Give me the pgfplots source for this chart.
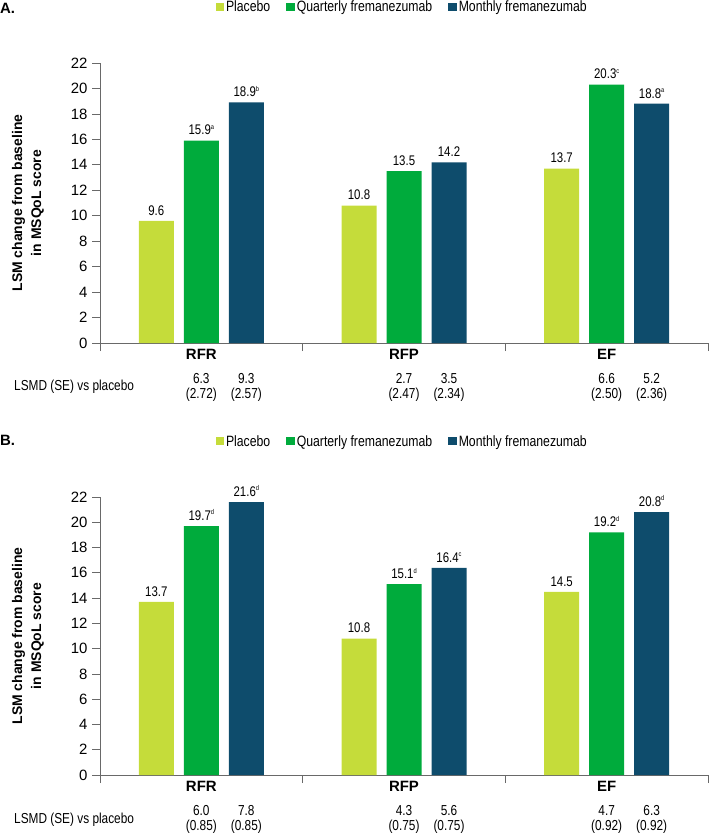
\documentclass[border=0pt]{standalone}
\usepackage{fontspec}
\setmainfont{Liberation Sans}
\newfontfamily\narrow[FakeStretch=0.82]{Liberation Sans}
\usepackage{pgfplots}
\pgfplotsset{compat=1.18}
\definecolor{cPla}{RGB}{197,220,58}
\definecolor{cQua}{RGB}{0,171,60}
\definecolor{cMon}{RGB}{14,76,108}
\definecolor{axgray}{RGB}{105,105,105}
\newcommand\supr[1]{\raisebox{0.75ex}{\fontsize{7}{8}\selectfont #1}}
\pgfplotsset{
  mybars/.style={
    scale only axis, width=608bp,
    xmin=0, xmax=3, ymin=0, ymax=22,
    ytick={0,2,...,22},
    axis x line=bottom, axis y line=left,
    axis line style={draw=axgray, line width=0.8bp, -},
    tick style={draw=axgray, line width=0.8bp},
    tick align=outside, major tick length=8bp,
    xtick={0,1,2,3}, xticklabels={},
    extra x ticks={0.5,1.5,2.5}, extra x tick labels={RFR,RFP,EF},
    extra x tick style={major tick length=0pt,
      xticklabel style={font=\fontsize{15}{17}\selectfont\bfseries, yshift=-3bp}},
    yticklabel style={font=\fontsize{15}{17}\selectfont, xshift=-1bp},
    /pgf/number format/assume math mode=true,
    ybar, bar width=35bp,
    clip=false,
    nodes near coords, point meta=explicit symbolic,
    every node near coord/.append style={font=\narrow\fontsize{14}{16}\selectfont, text=black, anchor=south, yshift=2bp},
    legend image code/.code={\fill[##1] (0bp,-4bp) rectangle (8.5bp,4.5bp);},
    legend columns=3,
    legend style={draw=none, fill=none, font=\narrow\fontsize{15}{17}\selectfont,
      anchor=center, inner sep=0pt,
      /tikz/every even column/.append style={column sep=14bp}},
  },
}
\tikzset{lsmd/.style={font=\narrow\fontsize{14.5}{15.5}\selectfont, align=center, anchor=north, inner sep=0pt, yshift=-30bp}}
\begin{document}
\begin{tikzpicture}
\useasboundingbox (0bp,0bp) rectangle (709bp,-834bp);
% ---------------- Panel A ----------------
\node[anchor=west, font=\fontsize{15}{17}\selectfont\bfseries, inner sep=0pt] at (0bp,-8bp) {A.};
\node[rotate=90, align=center, font=\fontsize{14}{19}\selectfont\bfseries] at (28bp,-203bp) {LSM change from baseline\\in MSQoL score};
\node[anchor=west, font=\narrow\fontsize{14.5}{16}\selectfont, inner sep=0pt] at (14bp,-387bp) {LSMD (SE) vs placebo};
\begin{axis}[mybars, height=280bp, at={(100bp,-343bp)}, anchor=origin,
  legend style={at={(0.497,1.2)}}]
\addplot[fill=cPla, draw=none, bar shift=-45bp] coordinates {(0.5,9.6) [9.6] (1.5,10.8) [10.8] (2.5,13.7) [13.7]};
\addplot[fill=cQua, draw=none, bar shift=0bp] coordinates {(0.5,15.9) [15.9\supr{a}] (1.5,13.5) [13.5] (2.5,20.3) [20.3\supr{c}]};
\addplot[fill=cMon, draw=none, bar shift=45bp] coordinates {(0.5,18.9) [18.9\supr{b}] (1.5,14.2) [14.2] (2.5,18.8) [18.8\supr{a}]};
\legend{Placebo, Quarterly fremanezumab, Monthly fremanezumab}
\node[lsmd] at (axis cs:0.5,0) {6.3\\(2.72)};
\node[lsmd, xshift=45bp] at (axis cs:0.5,0) {9.3\\(2.57)};
\node[lsmd] at (axis cs:1.5,0) {2.7\\(2.47)};
\node[lsmd, xshift=45bp] at (axis cs:1.5,0) {3.5\\(2.34)};
\node[lsmd] at (axis cs:2.5,0) {6.6\\(2.50)};
\node[lsmd, xshift=45bp] at (axis cs:2.5,0) {5.2\\(2.36)};
\end{axis}
% ---------------- Panel B ----------------
\node[anchor=west, font=\fontsize{15}{17}\selectfont\bfseries, inner sep=0pt] at (0bp,-440bp) {B.};
\node[rotate=90, align=center, font=\fontsize{14}{19}\selectfont\bfseries] at (28bp,-636bp) {LSM change from baseline\\in MSQoL score};
\node[anchor=west, font=\narrow\fontsize{14.5}{16}\selectfont, inner sep=0pt] at (14bp,-820bp) {LSMD (SE) vs placebo};
\begin{axis}[mybars, height=278bp, at={(100bp,-775bp)}, anchor=origin,
  legend style={at={(0.497,1.2)}}]
\addplot[fill=cPla, draw=none, bar shift=-45bp] coordinates {(0.5,13.7) [13.7] (1.5,10.8) [10.8] (2.5,14.5) [14.5]};
\addplot[fill=cQua, draw=none, bar shift=0bp] coordinates {(0.5,19.7) [19.7\supr{d}] (1.5,15.1) [15.1\supr{d}] (2.5,19.2) [19.2\supr{d}]};
\addplot[fill=cMon, draw=none, bar shift=45bp] coordinates {(0.5,21.6) [21.6\supr{d}] (1.5,16.4) [16.4\supr{c}] (2.5,20.8) [20.8\supr{d}]};
\legend{Placebo, Quarterly fremanezumab, Monthly fremanezumab}
\node[lsmd] at (axis cs:0.5,0) {6.0\\(0.85)};
\node[lsmd, xshift=45bp] at (axis cs:0.5,0) {7.8\\(0.85)};
\node[lsmd] at (axis cs:1.5,0) {4.3\\(0.75)};
\node[lsmd, xshift=45bp] at (axis cs:1.5,0) {5.6\\(0.75)};
\node[lsmd] at (axis cs:2.5,0) {4.7\\(0.92)};
\node[lsmd, xshift=45bp] at (axis cs:2.5,0) {6.3\\(0.92)};
\end{axis}
\end{tikzpicture}
\end{document}
